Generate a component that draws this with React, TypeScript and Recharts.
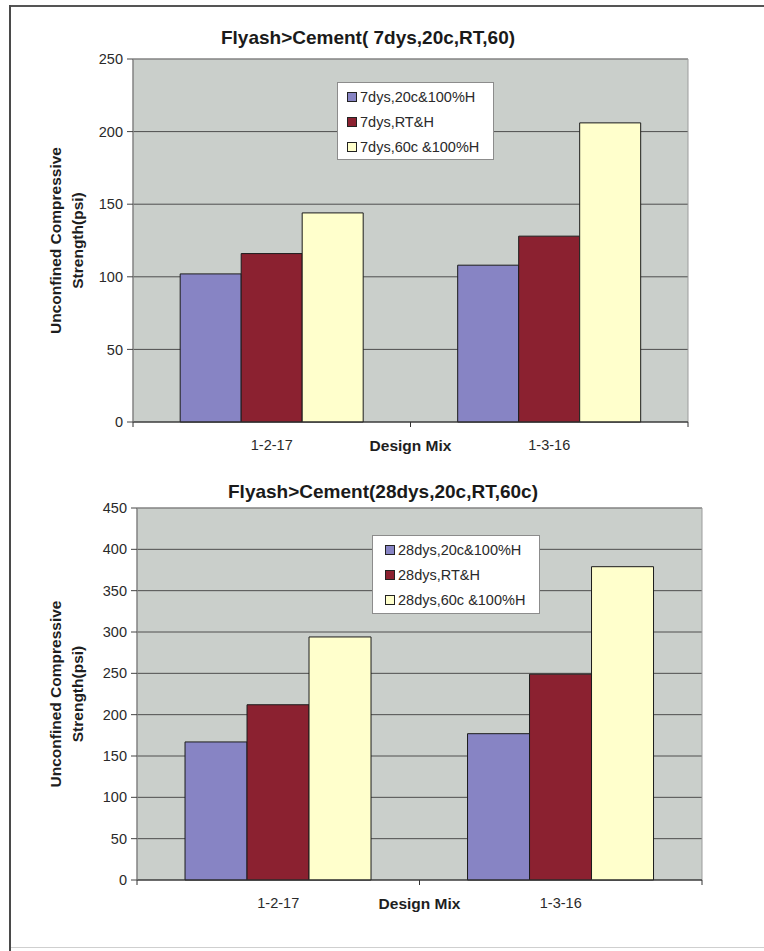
import { Bar, BarChart, CartesianGrid, Legend, XAxis, YAxis } from "recharts";

const FONT = "'Liberation Sans', Arial, sans-serif";

// Design mixes on the x axis
const mixes = ["1-2-17", "1-3-16"];

// 7-day strengths (psi)
const names7 = ["7dys,20c&100%H", "7dys,RT&H", "7dys,60c &100%H"];
const cure7At20c = [102, 108];
const cure7AtRT = [116, 128];
const cure7At60c = [144, 206];
const ticks7 = [0, 50, 100, 150, 200, 250];

// 28-day strengths (psi)
const names28 = ["28dys,20c&100%H", "28dys,RT&H", "28dys,60c &100%H"];
const cure28At20c = [167, 177];
const cure28AtRT = [212, 249];
const cure28At60c = [294, 379];
const ticks28 = [0, 50, 100, 150, 200, 250, 300, 350, 400, 450];

const COLORS = ["#8784c4", "#8b2130", "#ffffcc"];

type Layout = {
  top: number;
  height: number;
  margin: { top: number; right: number; bottom: number; left: number };
  yAxisWidth: number;
  titleX: number;
  titleY: number;
  legend: { left: number; top: number; width: number; height: number; padLeft: number; padTop: number };
};

function buildRows(a: number[], b: number[], c: number[]) {
  return mixes.map((mix, i) => ({ mix, a: a[i], b: b[i], c: c[i] }));
}

function MixTick(props: any) {
  const { x, y, payload, width, visibleTicksCount } = props;
  const half = payload && payload.offset > 2 ? payload.offset : width / visibleTicksCount / 2;
  const showLines = Number.isFinite(half);
  return (
    <g>
      {showLines && <line x1={x - half} x2={x - half} y1={y} y2={y + 5} stroke="#333" />}
      {showLines && payload.index === visibleTicksCount - 1 && (
        <line x1={x + half} x2={x + half} y1={y} y2={y + 5} stroke="#333" />
      )}
      <text
        x={x}
        y={y + 23}
        textAnchor="middle"
        dominantBaseline="central"
        fill="#2a2a2a"
        fontSize={14.5}
        fontFamily={FONT}
      >
        {payload.value}
      </text>
    </g>
  );
}

function renderXLabel(props: any) {
  const vb = props.viewBox;
  return (
    <text
      x={vb.x + vb.width / 2}
      y={vb.y + 23}
      textAnchor="middle"
      dominantBaseline="central"
      fill="#1e1e1e"
      fontSize={15.5}
      fontWeight="bold"
      fontFamily={FONT}
    >
      Design Mix
    </text>
  );
}

function renderYLabel(props: any) {
  const vb = props.viewBox;
  const cx = 66;
  const cy = vb.y + vb.height / 2;
  return (
    <text
      transform={`translate(${cx},${cy}) rotate(-90)`}
      textAnchor="middle"
      fill="#1e1e1e"
      fontSize={15.5}
      fontWeight="bold"
      fontFamily={FONT}
    >
      <tspan x={0} y={-5.5}>Unconfined Compressive</tspan>
      <tspan x={0} y={16.5}>Strength(psi)</tspan>
    </text>
  );
}

function StrengthChart({
  title,
  names,
  rows,
  ticks,
  layout,
}: {
  title: string;
  names: string[];
  rows: { mix: string; a: number; b: number; c: number }[];
  ticks: number[];
  layout: Layout;
}) {
  const lg = layout.legend;
  return (
    <div style={{ position: "absolute", left: 0, top: layout.top, width: 764, height: layout.height }}>
      <div
        style={{
          position: "absolute",
          left: layout.titleX - 250,
          width: 500,
          top: layout.titleY - 11,
          lineHeight: "22px",
          textAlign: "center",
          fontFamily: FONT,
          fontWeight: "bold",
          fontSize: 19,
          color: "#1a1a1a",
        }}
      >
        {title}
      </div>
      <BarChart
        width={764}
        height={layout.height}
        data={rows}
        margin={layout.margin}
        barCategoryGap="17%"
        barGap={0}
      >
        <CartesianGrid vertical={false} fill="#cacfcb" stroke="#4e4e4e" fillOpacity={1} />
        {/* lighter plot-area border over the top gridline and the two side edges */}
        <CartesianGrid
          stroke="#9c9c9c"
          verticalCoordinatesGenerator={({ offset }: any) => [offset.left, offset.left + offset.width]}
          horizontalCoordinatesGenerator={({ offset }: any) => [offset.top]}
        />
        <XAxis
          dataKey="mix"
          height={30}
          tickSize={0}
          tickMargin={0}
          tickLine={false}
          axisLine={{ stroke: "#333" }}
          tick={<MixTick />}
          interval={0}
          label={{ content: renderXLabel }}
        />
        <YAxis
          domain={[0, ticks[ticks.length - 1]]}
          ticks={ticks}
          interval={0}
          width={layout.yAxisWidth}
          tickSize={6}
          tickMargin={4}
          tickLine={{ stroke: "#444" }}
          axisLine={{ stroke: "#777" }}
          tick={{ fill: "#2a2a2a", fontSize: 14.5, fontFamily: FONT }}
          label={{ content: renderYLabel }}
        />
        <Legend
          layout="vertical"
          align="center"
          verticalAlign="middle"
          wrapperStyle={{ left: lg.left, top: lg.top, width: lg.width, height: lg.height }}
          content={(p: any) => {
            const entries = [...(p.payload || [])].sort(
              (u: any, v: any) => names.indexOf(u.value) - names.indexOf(v.value)
            );
            return (
              <div
                style={{
                  boxSizing: "border-box",
                  width: lg.width,
                  height: lg.height,
                  background: "#fff",
                  border: "1px solid #8c8c8c",
                  paddingLeft: lg.padLeft,
                  paddingTop: lg.padTop,
                }}
              >
                {entries.map((e: any) => (
                  <div key={e.value} style={{ display: "flex", alignItems: "center", height: 25 }}>
                    <span
                      style={{
                        display: "inline-block",
                        width: 8,
                        height: 8,
                        background: e.color,
                        border: "1px solid #222",
                        marginRight: 3,
                      }}
                    />
                    <span style={{ fontFamily: FONT, fontSize: 14.5, color: "#2a2a2a", whiteSpace: "nowrap" }}>
                      {e.value}
                    </span>
                  </div>
                ))}
              </div>
            );
          }}
        />
        {["a", "b", "c"].map((key, i) => (
          <Bar
            key={key}
            dataKey={key}
            name={names[i]}
            fill={COLORS[i]}
            stroke="#1c1c1c"
            strokeWidth={1}
            isAnimationActive={false}
          />
        ))}
      </BarChart>
    </div>
  );
}

const layout7: Layout = {
  top: 0,
  height: 470,
  margin: { top: 59, right: 76, bottom: 18, left: 20 },
  yAxisWidth: 113,
  titleX: 368,
  titleY: 38,
  legend: { left: 337, top: 82, width: 157, height: 78, padLeft: 9, padTop: 1 },
};

const layout28: Layout = {
  top: 470,
  height: 470,
  margin: { top: 38, right: 62, bottom: 30, left: 20 },
  yAxisWidth: 117,
  titleX: 383,
  titleY: 22,
  legend: { left: 372, top: 65, width: 168, height: 79, padLeft: 12, padTop: 1 },
};

export default function App() {
  return (
    <div style={{ position: "relative", width: 764, height: 951, background: "#fff", overflow: "hidden" }}>
      <style>{`body{margin:0}`}</style>
      <div style={{ position: "absolute", left: 10, top: 5, width: 754, borderTop: "2px solid #555" }} />
      <div style={{ position: "absolute", left: 9, top: 5, height: 946, borderLeft: "2px solid #4a4a4a" }} />
      <div style={{ position: "absolute", left: 11, top: 947, width: 753, borderTop: "1px solid #cfcfcf" }} />
      <StrengthChart
        title="Flyash>Cement( 7dys,20c,RT,60)"
        names={names7}
        rows={buildRows(cure7At20c, cure7AtRT, cure7At60c)}
        ticks={ticks7}
        layout={layout7}
      />
      <StrengthChart
        title="Flyash>Cement(28dys,20c,RT,60c)"
        names={names28}
        rows={buildRows(cure28At20c, cure28AtRT, cure28At60c)}
        ticks={ticks28}
        layout={layout28}
      />
    </div>
  );
}
